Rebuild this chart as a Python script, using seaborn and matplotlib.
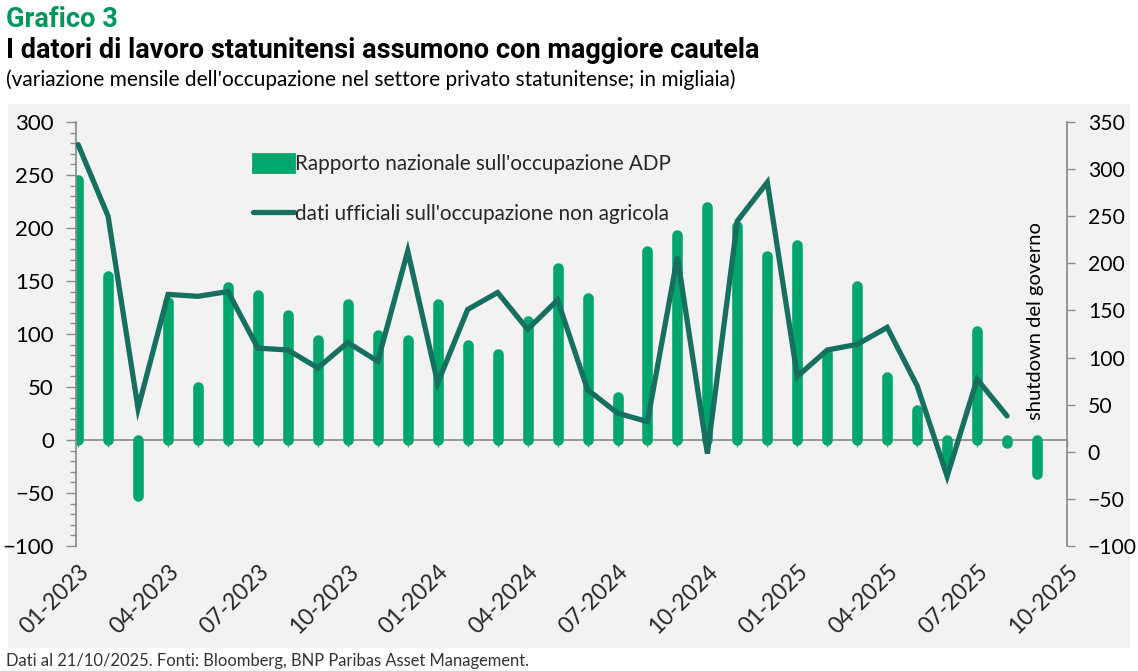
import numpy as np
import pandas as pd
import matplotlib.pyplot as plt
import seaborn as sns
from matplotlib import font_manager
from matplotlib.patches import Patch
from matplotlib.lines import Line2D
from matplotlib.ticker import MultipleLocator

# monthly data, 01-2023 .. 09-2025 (thousands)
months = pd.date_range('2023-01-01', '2025-09-01', freq='MS').strftime('%m-%Y').tolist()
adp = [245, 155, -53, 130, 50, 144, 137, 118, 94, 128, 99,
       94, 128, 90, 81, 112, 162, 134, 41, 178, 193, 220, 202,
       174, 184, 82, 145, 59, 28, -20, 103, -3, -32]
nfp_private = [326, 250, 46, 167, 165, 170, 110, 108, 89, 116, 96,
               213, 73, 151, 169, 130, 161, 66, 41, 32, 207, -2, 245,
               286, 80, 108, 114, 132, 70, -26, 77, 38, np.nan]
tick_labels = ['01-2023', '04-2023', '07-2023', '10-2023', '01-2024', '04-2024',
               '07-2024', '10-2024', '01-2025', '04-2025', '07-2025', '10-2025']

green = '#00a66b'
teal = '#17705f'
grey = '#8c8c8c'
title_green = '#00965e'

sns.set_theme(style='white')

installed = {f.name for f in font_manager.fontManager.ttflist}
def pick(*names):
    for n in names:
        if n in installed:
            return n
    return 'DejaVu Sans'

narrow = pick('Liberation Sans Narrow', 'Roboto', 'DejaVu Sans')
body = pick('Lato', 'Open Sans', 'DejaVu Sans')
plt.rcParams['font.family'] = [body, 'DejaVu Sans']

fig = plt.figure(figsize=(11.38, 6.71), dpi=100)
# grey panel behind the chart
bg = fig.add_axes([0.007, 0.034, 0.986, 0.811], zorder=-10)
bg.set_facecolor('#f2f2f2')
bg.set_xticks([])
bg.set_yticks([])
for s in bg.spines.values():
    s.set_visible(False)

ax = fig.add_axes([0.0668, 0.1863, 0.8708, 0.6319])
ax.set_facecolor('none')
x = np.arange(len(months))

# ADP bars as thick rounded strokes
ax.vlines(x, 0, adp, colors=green, linewidth=7.6, capstyle='round', zorder=2)

ax.set_xlim(-0.07, 33)
ax.set_ylim(-100, 300)
ax.yaxis.set_major_locator(MultipleLocator(50))
ax.yaxis.set_minor_locator(MultipleLocator(10))
ax.tick_params(axis='y', which='major', left=True, length=7, width=1, color=grey,
               labelsize=16, pad=9, labelcolor='black')
ax.tick_params(axis='y', which='minor', left=True, length=4, width=1, color=grey)
for s in ['top', 'right', 'bottom']:
    ax.spines[s].set_visible(False)
ax.spines['left'].set_color(grey)

ax.set_xticks(range(0, 34, 3))
ax.set_xticklabels(tick_labels, rotation=45, ha='right', rotation_mode='anchor')
ax.tick_params(axis='x', length=0, labelsize=16.5, pad=11)

# zero line with monthly ticks
zero = ax.secondary_xaxis(0.25)
zero.set_xticks(range(0, 34))
zero.tick_params(axis='x', length=5, width=1, color=grey, labelbottom=False, direction='out')
zero.spines['bottom'].set_color(grey)

# private payrolls on the right axis
ax2 = ax.twinx()
sns.lineplot(x=x, y=nfp_private, ax=ax2, color=teal, linewidth=3.8,
             solid_joinstyle='miter', legend=False, zorder=3)
ax2.set_ylim(-100, 350)
ax2.yaxis.set_major_locator(MultipleLocator(50))
ax2.tick_params(axis='y', right=True, length=6, width=1, color=grey,
                labelsize=15.2, pad=9, labelcolor='black')
for s in ['top', 'left', 'bottom']:
    ax2.spines[s].set_visible(False)
ax2.spines['right'].set_color(grey)
ax2.set_ylabel('')
ax.set_xlim(-0.07, 33)

ax.text(x[-1] - 0.05, 19, 'shutdown del governo', rotation=90, ha='center', va='bottom',
        fontsize=14.5, color='black')

handles = [Patch(facecolor=green, edgecolor=green, linewidth=2, joinstyle='round'),
           Line2D([], [], color=teal, linewidth=3.8)]
ax2.legend(handles, ["Rapporto nazionale sull'occupazione ADP",
                     "dati ufficiali sull'occupazione non agricola"],
           loc='upper left', bbox_to_anchor=(0.1786, 0.925), frameon=False,
           fontsize=14.9, handlelength=2.0, handleheight=1.0, handletextpad=0.05,
           labelspacing=1.45, borderpad=0, borderaxespad=0)

fig.text(0.005, 0.9598, 'Grafico 3', fontsize=19.5, fontweight='bold',
         color=title_green, family=narrow, va='baseline')
fig.text(0.005, 0.9136, 'I datori di lavoro statunitensi assumono con maggiore cautela',
         fontsize=19.5, fontweight='bold', color='black', family=narrow, va='baseline')
fig.text(0.005, 0.8718, "(variazione mensile dell'occupazione nel settore privato statunitense; in migliaia)",
         fontsize=15, color='black', va='baseline')
fig.text(0.005, 0.0075, 'Dati al 21/10/2025. Fonti: Bloomberg, BNP Paribas Asset Management.',
         fontsize=11.9, color='#333333', va='baseline')

fig.savefig('out.png', dpi=100)
